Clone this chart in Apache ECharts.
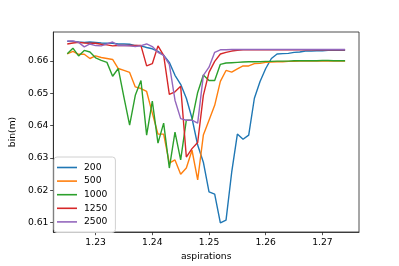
<!DOCTYPE html>
<html>
<head>
<meta charset="utf-8">
<script src="https://cdn.jsdelivr.net/npm/echarts@6/dist/echarts.min.js"></script>
<style>
html,body{margin:0;padding:0;background:#fff;}
#chart{width:399px;height:266px;}
</style>
</head>
<body>
<div id="chart"></div>
<script>
const aspirations = [1.225,1.226,1.227,1.228,1.229,1.230,1.231,1.232,1.233,1.234,
  1.235,1.236,1.237,1.238,1.239,1.240,1.241,1.242,1.243,1.244,
  1.245,1.246,1.247,1.248,1.249,1.250,1.251,1.252,1.253,1.254,
  1.255,1.256,1.257,1.258,1.259,1.260,1.261,1.262,1.263,1.264,
  1.265,1.266,1.267,1.268,1.269,1.270,1.271,1.272,1.273,1.274];

const s200 = [0.6661,0.6661,0.6659,0.6658,0.6659,0.6658,0.6656,0.6655,0.6655,0.6653,
  0.6653,0.6652,0.6648,0.6647,0.6642,0.6638,0.6630,0.6618,0.6596,0.6556,
  0.6528,0.6485,0.6423,0.6340,0.6287,0.6195,0.6188,0.6099,0.6108,0.6256,
  0.6374,0.6358,0.6371,0.6485,0.6537,0.6577,0.6608,0.6622,0.6623,0.6624,
  0.6627,0.6628,0.6631,0.6631,0.6632,0.6632,0.6633,0.6633,0.6633,0.6633];

const s500 = [0.6622,0.6630,0.6621,0.6621,0.6608,0.6616,0.6611,0.6608,0.6605,0.6577,
  0.6571,0.6565,0.6520,0.6515,0.6506,0.6439,0.6374,0.6374,0.6284,0.6294,
  0.6250,0.6269,0.6324,0.6232,0.6371,0.6417,0.6463,0.6537,0.6571,0.6566,
  0.6576,0.6585,0.6585,0.6592,0.6593,0.6596,0.6597,0.6598,0.6598,0.6599,
  0.6599,0.6600,0.6600,0.6600,0.6600,0.6600,0.6600,0.6600,0.6600,0.6600];

const s1000 = [0.6623,0.6640,0.6616,0.6633,0.6628,0.6610,0.6602,0.6596,0.6553,0.6577,
  0.6488,0.6402,0.6494,0.6540,0.6371,0.6476,0.6346,0.6408,0.6269,0.6380,
  0.6294,0.6417,0.6417,0.6503,0.6557,0.6540,0.6540,0.6590,0.6594,0.6595,
  0.6596,0.6597,0.6598,0.6598,0.6598,0.6599,0.6599,0.6600,0.6600,0.6600,
  0.6601,0.6601,0.6601,0.6601,0.6601,0.6602,0.6602,0.6601,0.6601,0.6601];

const s1250 = [0.6653,0.6656,0.6658,0.6656,0.6655,0.6655,0.6652,0.6650,0.6647,0.6648,
  0.6648,0.6648,0.6648,0.6648,0.6585,0.6592,0.6647,0.6618,0.6497,0.6505,
  0.6522,0.6303,0.6329,0.6348,0.6494,0.6565,0.6599,0.6622,0.6627,0.6631,
  0.6633,0.6635,0.6635,0.6635,0.6635,0.6635,0.6635,0.6635,0.6635,0.6635,
  0.6635,0.6635,0.6635,0.6635,0.6635,0.6635,0.6635,0.6635,0.6635,0.6635];

const s2500 = [0.6662,0.6662,0.6658,0.6644,0.6653,0.6648,0.6647,0.6653,0.6659,0.6648,
  0.6648,0.6647,0.6645,0.6648,0.6653,0.6645,0.6627,0.6618,0.6590,0.6479,
  0.6422,0.6417,0.6417,0.6408,0.6556,0.6581,0.6627,0.6635,0.6635,0.6636,
  0.6636,0.6636,0.6636,0.6636,0.6636,0.6636,0.6636,0.6636,0.6636,0.6636,
  0.6636,0.6636,0.6636,0.6636,0.6636,0.6636,0.6636,0.6636,0.6636,0.6636];

const seriesNames = ['200','500','1000','1250','2500'];
const seriesValues = [s200, s500, s1000, s1250, s2500];
const colors = ['#1f77b4','#ff7f0e','#2ca02c','#d62728','#9467bd'];

const xTicks = [1.23,1.24,1.25,1.26,1.27];
const yTicks = [0.61,0.62,0.63,0.64,0.65,0.66];

const font = 'DejaVu Sans';
const chart = echarts.init(document.getElementById('chart'), null, {renderer:'canvas'});

const series = seriesNames.map((name, k) => ({
  name: name,
  type: 'line',
  symbol: 'none',
  showSymbol: false,
  data: aspirations.map((x, i) => [x, seriesValues[k][i]]),
  lineStyle: {color: colors[k], width: 1.4},
  itemStyle: {color: colors[k]},
  animation: false
}));

chart.setOption({
  animation: false,
  textStyle: {fontFamily: font},
  grid: {left: 50, right: 40, top: 32, bottom: 34, show: true, borderColor: '#222', borderWidth: 0.8, backgroundColor: 'transparent'},
  xAxis: {
    type: 'value',
    min: 1.22255, max: 1.27645,
    name: 'aspirations',
    nameLocation: 'middle',
    nameGap: 20,
    nameTextStyle: {fontFamily: font, fontSize: 9.2, color: '#000'},
    axisLine: {show: true, lineStyle: {color: '#222', width: 0.8}},
    axisTick: {show: true, inside: false, length: 3.2, lineStyle: {color: '#222', width: 0.8}, customValues: xTicks},
    axisLabel: {fontFamily: font, fontSize: 9.2, color: '#000', margin: 6, customValues: xTicks, formatter: v => v.toFixed(2)},
    splitLine: {show: false}
  },
  yAxis: {
    type: 'value',
    min: 0.6071, max: 0.6690,
    name: 'bin(m)',
    nameLocation: 'middle',
    nameGap: 31,
    nameRotate: 90,
    nameTextStyle: {fontFamily: font, fontSize: 9.2, color: '#000'},
    axisLine: {show: true, lineStyle: {color: '#222', width: 0.8}},
    axisTick: {show: true, inside: false, length: 3.2, lineStyle: {color: '#222', width: 0.8}, customValues: yTicks},
    axisLabel: {fontFamily: font, fontSize: 9.2, color: '#000', margin: 5, customValues: yTicks, formatter: v => v.toFixed(2)},
    splitLine: {show: false}
  },
  legend: {
    orient: 'vertical',
    left: 54, top: 157,
    padding: [5, 8, 5, 3],
    icon: 'rect',
    itemWidth: 20, itemHeight: 1.6, itemGap: 2.6,
    backgroundColor: 'rgba(255,255,255,0.8)',
    borderColor: '#d0d0d0', borderWidth: 1, borderRadius: 3,
    textStyle: {fontFamily: font, fontSize: 9.2, lineHeight: 11, color: '#000', padding: [0,0,0,2]},
    data: seriesNames
  },
  series: series
});
</script>
</body>
</html>
